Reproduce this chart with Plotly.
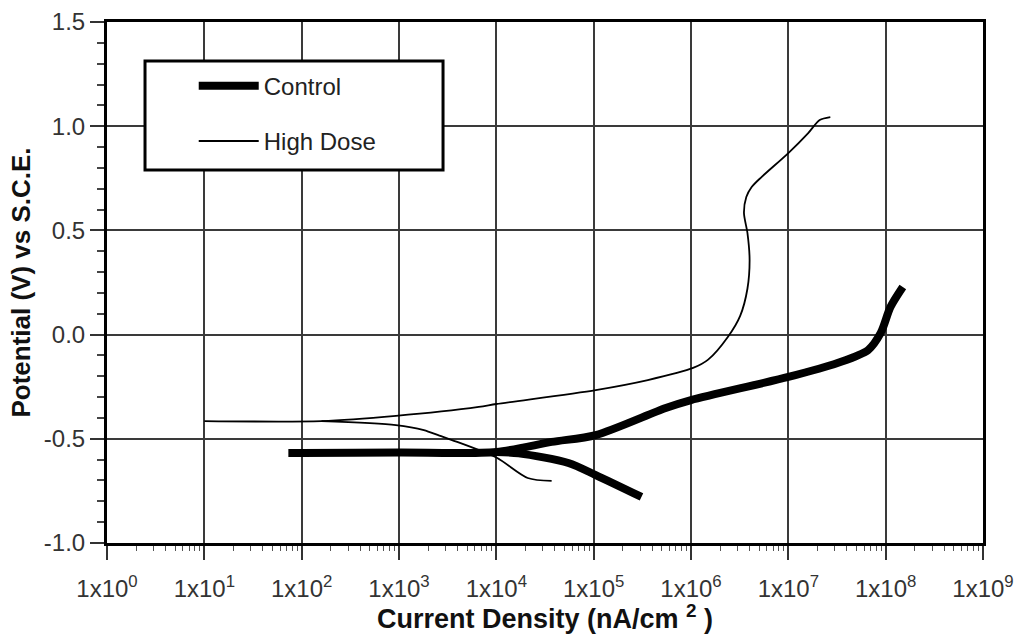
import plotly.graph_objects as go

# ---- data ----
control_anodic_x = [73, 1.0e2, 1.0e3, 1.0e4, 3.7e4, 1.05e5, 5.5e5, 1.0e6, 1.0e7, 3.2e7, 6.6e7, 8.9e7, 1.12e8, 1.5e8]
control_anodic_y = [-0.568, -0.568, -0.566, -0.563, -0.515, -0.482, -0.352, -0.314, -0.203, -0.136, -0.074, 0.008, 0.132, 0.228]
control_cathodic_x = [1.0e4, 1.7e4, 5.5e4, 1.05e5, 3.1e5]
control_cathodic_y = [-0.563, -0.570, -0.616, -0.674, -0.779]

high_anodic_x = [10, 1.6e2, 9.3e2, 6.6e3, 1.0e4, 1.05e5, 3.6e5, 1.05e6, 1.5e6, 2.4e6, 3.2e6,
                 3.8e6, 4.0e6, 3.8e6, 3.5e6, 3.7e6, 4.2e6, 5.3e6, 1.0e7, 1.6e7, 2.1e7, 2.7e7]
high_anodic_y = [-0.415, -0.415, -0.390, -0.347, -0.333, -0.266, -0.218, -0.160, -0.120, -0.010, 0.090,
                 0.220, 0.358, 0.488, 0.583, 0.660, 0.708, 0.756, 0.871, 0.967, 1.030, 1.044]
high_cathodic_x = [1.6e2, 9.3e2, 1.8e3, 2.6e3, 3.5e3, 1.0e4, 2.1e4, 3.7e4]
high_cathodic_y = [-0.415, -0.434, -0.458, -0.485, -0.506, -0.590, -0.688, -0.702]

x_tickvals = [1, 1e1, 1e2, 1e3, 1e4, 1e5, 1e6, 1e7, 1e8, 1e9]
x_ticktext = ["1x10<sup>0</sup>", "1x10<sup>1</sup>", "1x10<sup>2</sup>", "1x10<sup>3</sup>",
              "1x10<sup>4</sup>", "1x10<sup>5</sup>", "1x10<sup>6</sup>", "1x10<sup>7</sup>",
              "1x10<sup>8</sup>", "1x10<sup>9</sup>"]
y_tickvals = [-1.0, -0.5, 0.0, 0.5, 1.0, 1.5]
y_ticktext = ["-1.0", "-0.5", "0.0", "0.5", "1.0", "1.5"]

FONT = "Liberation Sans, Arial, Helvetica, sans-serif"

fig = go.Figure()
fig.add_trace(go.Scatter(
    x=control_anodic_x + [None] + control_cathodic_x,
    y=control_anodic_y + [None] + control_cathodic_y,
    mode="lines", name="Control", legendgroup="c",
    line=dict(color="#000000", width=8, shape="spline", smoothing=0.8),
))
fig.add_trace(go.Scatter(
    x=high_anodic_x + [None] + high_cathodic_x,
    y=high_anodic_y + [None] + high_cathodic_y,
    mode="lines", name="High Dose", legendgroup="h",
    line=dict(color="#000000", width=1.8, shape="spline", smoothing=0.8),
))

# legend frame
fig.add_shape(type="rect", xref="paper", yref="paper",
              x0=0.0434, x1=0.3836, y0=0.716, y1=0.925,
              line=dict(color="#000000", width=3), fillcolor="white", layer="above")

fig.update_layout(
    width=1016, height=634,
    margin=dict(l=107, r=33, t=22, b=91, autoexpand=False),
    paper_bgcolor="white", plot_bgcolor="white",
    font=dict(family=FONT, color="#222222"),
    showlegend=True,
    legend=dict(
        x=0.099, y=0.92, xanchor="left", yanchor="top",
        bgcolor="rgba(0,0,0,0)", borderwidth=0,
        font=dict(size=24, family=FONT, color="#222222"),
        itemwidth=60, traceorder="grouped", tracegroupgap=21,
    ),
    xaxis=dict(
        type="log", range=[0, 9], automargin=False,
        tickmode="array", tickvals=x_tickvals, ticktext=x_ticktext,
        tickfont=dict(size=24, color="#333333"), ticklabelstandoff=8,
        showgrid=True, gridcolor="#3a3a3a", gridwidth=2,
        ticks="outside", ticklen=14, tickwidth=2, tickcolor="#333333",
        minor=dict(ticks="outside", ticklen=5, tickwidth=1, tickcolor="#555555",
                   dtick="D1", showgrid=False),
        showline=True, linecolor="#000000", linewidth=3, mirror=True,
        zeroline=False,
        title=dict(text="<b>Current Density (nA/cm <sup>2</sup> )</b>",
                   font=dict(size=27, color="#111111"), standoff=8),
    ),
    yaxis=dict(
        range=[-1.0, 1.5], automargin=False,
        tickmode="array", tickvals=y_tickvals, ticktext=y_ticktext,
        tickfont=dict(size=24, color="#333333"),
        showgrid=True, gridcolor="#3a3a3a", gridwidth=2,
        ticks="outside", ticklen=14, tickwidth=2, tickcolor="#333333",
        minor=dict(ticks="outside", ticklen=7, tickwidth=2, tickcolor="#444444",
                   dtick=0.1, showgrid=False),
        showline=True, linecolor="#000000", linewidth=3, mirror=True,
        zeroline=False,
        title=dict(text="<b>Potential (V) vs S.C.E.</b>",
                   font=dict(size=26, color="#111111"), standoff=6),
    ),
)

fig.write_html("out.html", config={"displayModeBar": False},
               post_script="document.body.style.margin='0px';")
